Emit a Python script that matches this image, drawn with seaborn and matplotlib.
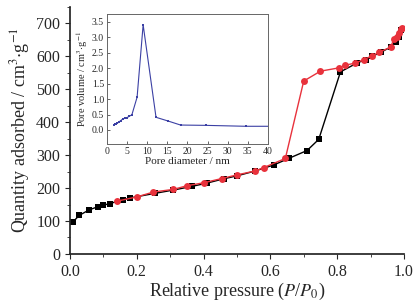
import numpy as np
import pandas as pd
import matplotlib
matplotlib.use('Agg')
import matplotlib.pyplot as plt
import seaborn as sns

# adsorption branch (black squares)
ads_p = [0.008, 0.028, 0.058, 0.083, 0.10, 0.12, 0.16, 0.18, 0.255, 0.31, 0.365, 0.41,
         0.46, 0.50, 0.555, 0.61, 0.655, 0.71, 0.745, 0.81, 0.86, 0.885, 0.905, 0.93,
         0.96, 0.975, 0.985, 0.99]
ads_v = [96, 117, 134, 143, 148, 153, 165, 170, 184, 194, 205, 215,
         228, 237, 252, 270, 290, 314, 348, 553, 580, 590, 600, 612,
         628, 645, 660, 680]

# desorption branch (red circles)
des_p = [0.14, 0.20, 0.25, 0.31, 0.35, 0.40, 0.455, 0.50, 0.555, 0.58, 0.645, 0.70,
         0.75, 0.805, 0.825, 0.855, 0.88, 0.905, 0.925, 0.96, 0.97, 0.98, 0.985, 0.99, 0.995]
des_v = [160, 173, 188, 196, 207, 216, 229, 240, 252, 262, 290, 525,
         555, 565, 573, 580, 590, 602, 612, 628, 652, 660, 670, 682, 685]

# pore size distribution (inset)
pore_d = [1.7, 2.0, 2.3, 2.6, 3.0, 3.4, 3.9, 4.4, 5.0, 5.5, 6.2, 7.5, 9.0, 12.2,
          15.2, 18.3, 24.5, 34.5, 42.0]
pore_v = [0.15, 0.18, 0.20, 0.22, 0.26, 0.30, 0.35, 0.38, 0.40, 0.44, 0.49, 1.06, 3.4,
          0.41, 0.29, 0.16, 0.15, 0.12, 0.12]

sns.set_theme(style='ticks')
plt.rcParams['font.family'] = ['Liberation Serif', 'DejaVu Serif']
plt.rcParams['mathtext.fontset'] = 'stix'
plt.rcParams['xtick.direction'] = 'out'
plt.rcParams['ytick.direction'] = 'out'

fig = plt.figure(figsize=(4.16, 3.03), dpi=100)
ax = fig.add_axes([0.168, 0.162, 0.803, 0.815])

ads = pd.DataFrame({'p': ads_p, 'v': ads_v})
des = pd.DataFrame({'p': des_p, 'v': des_v})
sns.lineplot(data=ads, x='p', y='v', sort=False, estimator=None, ax=ax,
             color='black', marker='s', markersize=4.5, markeredgewidth=0, lw=1.0)
sns.lineplot(data=des, x='p', y='v', sort=False, estimator=None, ax=ax,
             color='#e8323c', marker='o', markersize=5, markeredgewidth=0, lw=1.0)

ax.set_xlim(0, 1.0)
ax.set_ylim(0, 750)
ax.set_xticks(np.arange(0, 1.01, 0.2))
ax.set_xticks(np.arange(0, 1.01, 0.1), minor=True)
ax.set_yticks(np.arange(0, 701, 100))
ax.set_yticks(np.arange(0, 751, 50), minor=True)
ax.xaxis.set_major_formatter(matplotlib.ticker.FormatStrFormatter('%.1f'))
ax.tick_params(labelsize=11.5, length=3.5, width=0.8)
ax.tick_params(which='minor', length=2, width=0.6)
sns.despine(ax=ax)
ax.set_xlabel(r'Relative pressure ($\mathit{P}$/$\mathit{P}_0$)', fontsize=13, labelpad=1)
ax.set_ylabel(r'Quantity adsorbed / cm$^3$$\cdot$g$^{-1}$', fontsize=13, labelpad=3)

# inset
ins = fig.add_axes([0.257, 0.525, 0.387, 0.429])
pore = pd.DataFrame({'d': pore_d, 'v': pore_v})
sns.lineplot(data=pore, x='d', y='v', sort=False, estimator=None, ax=ins,
             color='#3b40a4', marker='s', markersize=2, markeredgewidth=0, lw=0.8)
ins.set_xlim(0, 40)
ins.set_ylim(-0.45, 3.75)
ins.set_xticks(np.arange(0, 41, 5))
ins.set_yticks(np.arange(0, 3.51, 0.5))
ins.yaxis.set_major_formatter(matplotlib.ticker.FormatStrFormatter('%.1f'))
ins.tick_params(labelsize=7, length=2, width=0.5, direction='in', pad=2)
for s in ins.spines.values():
    s.set_color('#666666')
    s.set_linewidth(0.7)
ins.set_xlabel('Pore diameter / nm', fontsize=8, labelpad=1)
ins.set_ylabel(r'Pore volume / cm$^3$$\cdot$g$^{-1}$', fontsize=7.5, labelpad=1)

fig.savefig('out.png', dpi=100)
